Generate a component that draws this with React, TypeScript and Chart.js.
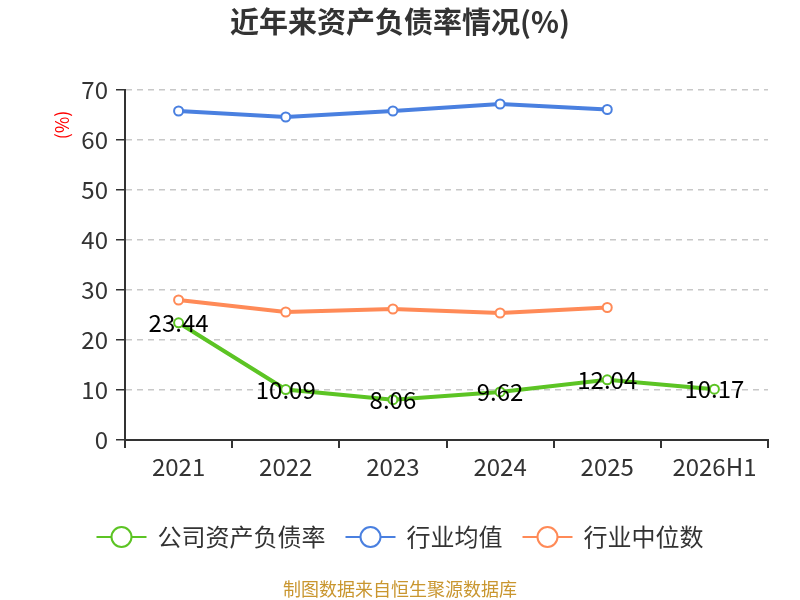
import React, { useEffect, useRef } from 'react';
import { Chart, ChartConfiguration, Plugin, registerables } from 'chart.js';

Chart.register(...registerables);

const FONT = '"Noto Sans CJK SC", "Noto Sans", sans-serif';

const categories = ['2021', '2022', '2023', '2024', '2025', '2026H1'];
const companyRatio = [23.44, 10.09, 8.06, 9.62, 12.04, 10.17];
const industryAvg = [65.8, 64.6, 65.8, 67.2, 66.1, null];
const industryMedian = [28.0, 25.6, 26.2, 25.4, 26.5, null];
const yTicks = [0, 10, 20, 30, 40, 50, 60, 70];

const seriesNames = ['公司资产负债率', '行业均值', '行业中位数'];
const seriesColors = ['#5cc424', '#4a80e0', '#ff8a57'];

const titleText = '近年来资产负债率情况(%)';
const yTitle = '(%)';
const sourceText = '制图数据来自恒生聚源数据库';

// titles, legend, value labels and source drawn onto the canvas
const decorPlugin: Plugin = {
  id: 'decor',
  afterDatasetsDraw(chart) {
    const ctx = chart.ctx;
    ctx.save();

    // value labels of company series
    const meta = chart.getDatasetMeta(0);
    ctx.font = `24px ${FONT}`;
    ctx.fillStyle = '#000';
    ctx.textAlign = 'center';
    ctx.textBaseline = 'middle';
    meta.data.forEach((pt, i) => {
      ctx.fillText(companyRatio[i].toFixed(2), pt.x, pt.y);
    });

    // title
    ctx.font = `bold 29px ${FONT}`;
    ctx.fillStyle = '#333';
    ctx.fillText(titleText, 400, 22);

    // y axis title
    ctx.save();
    ctx.translate(62, 125);
    ctx.rotate(-Math.PI / 2);
    ctx.font = `18px ${FONT}`;
    ctx.fillStyle = '#ff0000';
    ctx.fillText(yTitle, 0, 0);
    ctx.restore();

    // legend
    ctx.font = `24px ${FONT}`;
    ctx.textAlign = 'left';
    const ly = 537;
    const itemW = seriesNames.map((n) => 61 + ctx.measureText(n).width);
    const gap = 20;
    let lx = 400 - (itemW.reduce((a, b) => a + b, 0) + gap * (itemW.length - 1)) / 2;
    seriesNames.forEach((name, i) => {
      ctx.strokeStyle = seriesColors[i];
      ctx.lineWidth = 2;
      ctx.beginPath();
      ctx.moveTo(lx, ly);
      ctx.lineTo(lx + 50, ly);
      ctx.stroke();
      ctx.beginPath();
      ctx.arc(lx + 25, ly, 10, 0, Math.PI * 2);
      ctx.fillStyle = '#fff';
      ctx.fill();
      ctx.stroke();
      ctx.fillStyle = '#333';
      ctx.fillText(name, lx + 61, ly);
      lx += itemW[i] + gap;
    });

    // source
    ctx.font = `18px ${FONT}`;
    ctx.textAlign = 'center';
    ctx.fillStyle = '#c9962f';
    ctx.fillText(sourceText, 400, 589);

    ctx.restore();
  },
};

const makeSeries = (label: string, data: (number | null)[], color: string) => ({
  label,
  data,
  borderColor: color,
  backgroundColor: '#fff',
  borderWidth: 4,
  pointRadius: 4.5,
  pointBorderWidth: 2,
  pointBorderColor: color,
  pointBackgroundColor: '#fff',
  tension: 0,
  spanGaps: false,
});

export default function App() {
  const chartRef = useRef<HTMLCanvasElement | null>(null);
  const chartInstance = useRef<Chart | null>(null);

  useEffect(() => {
    document.body.style.margin = '0';
    if (!chartRef.current) return;
    const ctx = chartRef.current.getContext('2d');
    if (!ctx) return;

    if (chartInstance.current) {
      chartInstance.current.destroy();
    }

    const config: ChartConfiguration = {
      type: 'line',
      data: {
        labels: categories,
        datasets: [
          makeSeries(seriesNames[0], companyRatio, seriesColors[0]),
          makeSeries(seriesNames[1], industryAvg, seriesColors[1]),
          makeSeries(seriesNames[2], industryMedian, seriesColors[2]),
        ] as any,
      },
      options: {
        responsive: false,
        animation: false,
        layout: { padding: { top: 90, right: 32, left: 0, bottom: 0 } },
        plugins: {
          legend: { display: false },
          title: { display: false },
          tooltip: { enabled: false },
        },
        scales: {
          x: {
            offset: true,
            afterFit: (scale: any) => {
              scale.height = 160;
            },
            grid: {
              offset: true,
              drawOnChartArea: false,
              drawTicks: true,
              tickLength: 8,
              tickColor: '#333',
              lineWidth: 2,
            },
            border: { display: true, color: '#333', width: 2 },
            ticks: {
              color: '#333',
              padding: 4,
              font: { size: 24, family: FONT },
            },
          },
          y: {
            min: 0,
            max: 70,
            afterFit: (scale: any) => {
              scale.width = 125;
            },
            afterBuildTicks: (scale: any) => {
              scale.ticks = yTicks.map((v) => ({ value: v }));
            },
            grid: {
              color: '#c8c8c8',
              lineWidth: 1.5,
              tickLength: 9,
              tickColor: '#333',
              tickBorderDash: [],
              drawTicks: true,
            },
            border: { display: true, color: '#333', width: 2, dash: [6, 5] },
            ticks: {
              color: '#333',
              padding: 8,
              font: { size: 24, family: FONT },
            },
          },
        },
      },
      plugins: [
        decorPlugin,
        {
          id: 'dashGrid',
          beforeDraw(chart) {
            const y: any = chart.scales.y;
            y.options.grid.borderDash = [6, 5];
          },
        },
      ],
    };

    chartInstance.current = new Chart(ctx, config);

    return () => {
      if (chartInstance.current) {
        chartInstance.current.destroy();
        chartInstance.current = null;
      }
    };
  }, []);

  return (
    <div style={{ width: 800, height: 600, background: '#fff' }}>
      <canvas ref={chartRef} width={800} height={600} />
    </div>
  );
}
